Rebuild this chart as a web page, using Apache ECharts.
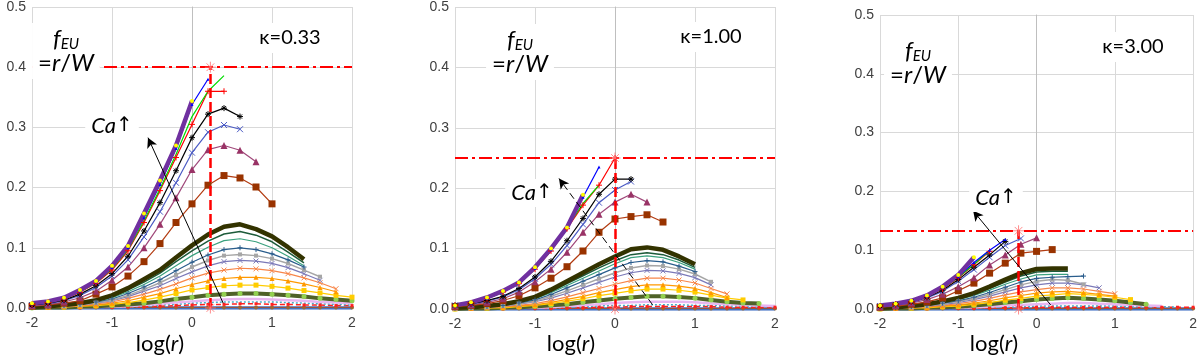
<!DOCTYPE html>
<html>
<head>
<meta charset="utf-8">
<script src="https://cdn.jsdelivr.net/npm/echarts@6/dist/echarts.min.js"></script>
<style>html,body{margin:0;padding:0;background:#fff}#c{width:1200px;height:356px}</style>
</head>
<body>
<div id="c"></div>
<script>
// ---------- DATA ----------
const XS = [-2,-1.8,-1.6,-1.4,-1.2,-1,-0.8,-0.6,-0.4,-0.2,0,0.2,0.4,0.6,0.8,1,1.2,1.4,1.6,1.8,2];
const X_TICKS = [-2,-1,0,1,2];
const Y_TICKS = [0,0.1,0.2,0.3,0.4,0.5];
const KAPPA = ['κ=0.33','κ=1.00','κ=3.00'];
const F_EU = [0.40, 0.25, 0.133];
const R_W = [0.23, 0.0, -0.23];
const ARROW1 = [[0.39,0.008],[-0.55,0.283]];
const ARROW2 = [[0.47,0.007],[-0.70,0.216]];
const ARROW3 = [[0.18,0.007],[-0.81,0.167]];

// panel 1 (kappa 0.33)
const p1Purple=[0.008,0.011,0.017,0.030,0.045,0.070,0.103,0.157,0.212,0.270,0.344];
const p1Blue=[0.007,0.010,0.016,0.028,0.043,0.067,0.100,0.150,0.205,0.265,0.338,0.380];
const p1Green=[0.006,0.010,0.015,0.027,0.042,0.065,0.097,0.145,0.198,0.255,0.318,0.360,0.386];
const p1Red=[0.006,0.009,0.015,0.026,0.041,0.063,0.095,0.142,0.195,0.250,0.305,0.360,0.360];
const p1Black=[0.005,0.008,0.013,0.023,0.037,0.057,0.086,0.128,0.175,0.228,0.283,0.322,0.332,0.318];
const p1Slate=[0.005,0.007,0.012,0.021,0.034,0.053,0.080,0.118,0.160,0.208,0.258,0.292,0.304,0.297];
const p1Maroon=[0.004,0.006,0.010,0.017,0.028,0.046,0.068,0.100,0.139,0.183,0.230,0.263,0.270,0.262,0.243];
const p1Brown=[0.003,0.005,0.008,0.012,0.023,0.035,0.053,0.077,0.107,0.142,0.173,0.204,0.220,0.216,0.201,0.173];
const p1Thick=[0.002,0.003,0.005,0.008,0.013,0.021,0.033,0.048,0.063,0.084,0.104,0.122,0.135,0.139,0.131,0.119,0.101,0.081];
const p1DkGreen=[0.002,0.003,0.004,0.007,0.012,0.019,0.030,0.043,0.058,0.077,0.095,0.111,0.123,0.127,0.121,0.110,0.093,0.075];
const p1Teal=[0.002,0.003,0.004,0.007,0.011,0.017,0.027,0.039,0.053,0.070,0.087,0.101,0.112,0.115,0.110,0.100,0.086,0.070];
const p1DkBlue=[0.001,0.002,0.004,0.006,0.010,0.015,0.024,0.035,0.047,0.062,0.076,0.088,0.097,0.100,0.097,0.090,0.080,0.068];
const p1Gray=[0.001,0.002,0.003,0.005,0.009,0.013,0.021,0.031,0.042,0.055,0.068,0.079,0.087,0.089,0.087,0.082,0.074,0.063,0.052];
const p1SlateBlue=[0.001,0.002,0.003,0.005,0.008,0.012,0.019,0.028,0.037,0.049,0.060,0.070,0.077,0.079,0.078,0.074,0.067,0.057,0.046];
const p1Orange=[0.001,0.002,0.003,0.004,0.007,0.010,0.016,0.023,0.031,0.040,0.050,0.058,0.063,0.066,0.065,0.062,0.057,0.050,0.042,0.032];
const p1OrangeTri=[0.001,0.001,0.002,0.003,0.005,0.008,0.012,0.018,0.024,0.032,0.039,0.045,0.049,0.051,0.051,0.049,0.045,0.040,0.034,0.027];
const p1Yellow=[0.001,0.001,0.002,0.003,0.004,0.006,0.009,0.013,0.018,0.024,0.030,0.034,0.037,0.038,0.038,0.036,0.033,0.029,0.025,0.021,0.018];
const p1Olive=[0.000,0.001,0.001,0.002,0.003,0.004,0.006,0.008,0.011,0.015,0.018,0.021,0.023,0.024,0.024,0.023,0.021,0.019,0.016,0.014,0.012];
const p1Pink=[0.000,0.000,0.001,0.001,0.002,0.002,0.003,0.005,0.007,0.009,0.011,0.013,0.014,0.015,0.015,0.014,0.013,0.012,0.010,0.009,0.008];
const p1LtBlue=[0.000,0.000,0.000,0.001,0.001,0.002,0.002,0.003,0.005,0.006,0.008,0.009,0.010,0.010,0.010,0.010,0.009,0.008,0.007,0.006,0.005];
const p1RedDash=[0.000,0.000,0.000,0.000,0.001,0.001,0.002,0.002,0.003,0.004,0.005,0.006,0.006,0.007,0.007,0.006,0.006,0.005,0.005,0.004,0.004];
const p1BrownZero=[0.001,0.001,0.001,0.001,0.001,0.001,0.001,0.001,0.001,0.001,0.001,0.001,0.001,0.001,0.001,0.001,0.001,0.001,0.001,0.001,0.001];
const p1BlueZero=[0,0,0,0,0,0,0,0,0,0,0,0,0,0,0,0,0,0,0,0,0];

// panel 2 (kappa 1.00)
const p2Purple=[0.006,0.011,0.019,0.030,0.044,0.069,0.100,0.135,0.189];
const p2Blue=[0.006,0.010,0.018,0.029,0.043,0.067,0.098,0.137,0.185,0.235];
const p2Green=[0.006,0.010,0.017,0.028,0.042,0.066,0.097,0.135,0.175,0.205];
const p2Red=[0.006,0.010,0.017,0.028,0.042,0.066,0.096,0.133,0.172,0.205,0.250];
const p2Black=[0.006,0.009,0.014,0.021,0.034,0.053,0.079,0.113,0.150,0.190,0.215,0.215];
const p2Slate=[0.006,0.008,0.013,0.020,0.032,0.050,0.074,0.105,0.140,0.176,0.197,0.211];
const p2Maroon=[0.005,0.007,0.011,0.017,0.028,0.045,0.066,0.094,0.127,0.157,0.177,0.190,0.177];
const p2Brown=[0.004,0.006,0.009,0.014,0.022,0.035,0.051,0.070,0.096,0.127,0.149,0.153,0.156,0.144];
const p2Thick=[0.002,0.003,0.005,0.008,0.013,0.020,0.032,0.046,0.060,0.074,0.087,0.099,0.102,0.098,0.087,0.074];
const p2DkGreen=[0.002,0.003,0.004,0.007,0.012,0.018,0.029,0.042,0.055,0.068,0.080,0.090,0.093,0.090,0.081,0.069];
const p2Teal=[0.002,0.003,0.004,0.007,0.011,0.017,0.027,0.039,0.051,0.063,0.075,0.085,0.088,0.085,0.077,0.066];
const p2DkBlue=[0.001,0.002,0.004,0.006,0.010,0.015,0.024,0.035,0.046,0.057,0.068,0.077,0.080,0.078,0.071,0.062];
const p2Gray=[0.001,0.002,0.003,0.005,0.009,0.013,0.021,0.030,0.040,0.050,0.060,0.068,0.072,0.071,0.066,0.058,0.045];
const p2SlateBlue=[0.001,0.002,0.003,0.005,0.008,0.012,0.018,0.026,0.035,0.044,0.053,0.060,0.064,0.063,0.059,0.052,0.040];
const p2Orange=[0.001,0.001,0.002,0.004,0.006,0.009,0.014,0.020,0.027,0.034,0.041,0.047,0.051,0.051,0.048,0.043,0.034,0.025];
const p2OrangeTri=[0.001,0.001,0.002,0.003,0.005,0.007,0.011,0.016,0.021,0.027,0.032,0.037,0.040,0.040,0.038,0.034,0.027,0.019];
const p2Yellow=[0.000,0.001,0.002,0.002,0.004,0.006,0.009,0.013,0.017,0.022,0.026,0.030,0.033,0.033,0.031,0.028,0.023,0.018,0.015];
const p2Olive=[0.000,0.001,0.001,0.002,0.003,0.004,0.006,0.008,0.011,0.014,0.017,0.019,0.021,0.021,0.020,0.018,0.015,0.012,0.010,0.009];
const p2Pink=[0.000,0.000,0.001,0.001,0.002,0.002,0.003,0.005,0.006,0.008,0.010,0.011,0.012,0.012,0.012,0.011,0.009,0.008,0.007,0.006,0.005];
const p2LtBlue=[0.000,0.000,0.000,0.001,0.001,0.002,0.002,0.003,0.004,0.005,0.006,0.006,0.007,0.007,0.007,0.006,0.006,0.005,0.005,0.004,0.004];
const p2RedDash=[0.000,0.000,0.000,0.000,0.001,0.001,0.001,0.002,0.002,0.003,0.003,0.004,0.004,0.004,0.004,0.004,0.004,0.003,0.003,0.003,0.003];
const p2BrownZero=[0.001,0.001,0.001,0.001,0.001,0.001,0.001,0.001,0.001,0.001,0.001,0.001,0.001,0.001,0.001,0.001,0.001,0.001,0.001,0.001,0.001];
const p2BlueZero=[0,0,0,0,0,0,0,0,0,0,0,0,0,0,0,0,0,0,0,0,0];

// panel 3 (kappa 3.00)
const p3Purple=[0.006,0.009,0.014,0.023,0.038,0.058,0.088];
const p3Blue=[0.006,0.009,0.013,0.022,0.036,0.055,0.079,0.100,0.118];
const p3Green=[0.005,0.008,0.013,0.021,0.035,0.054,0.076,0.100];
const p3Red=[0.005,0.008,0.012,0.021,0.034,0.053,0.075,0.098];
const p3Black=[0.005,0.008,0.012,0.020,0.032,0.050,0.071,0.092,0.115];
const p3Slate=[0.005,0.007,0.011,0.019,0.030,0.047,0.067,0.088,0.108,0.120];
const p3Maroon=[0.004,0.006,0.010,0.016,0.025,0.038,0.053,0.075,0.092,0.110,0.121];
const p3Brown=[0.003,0.005,0.008,0.012,0.019,0.031,0.044,0.061,0.078,0.095,0.098,0.101];
const p3Thick=[0.002,0.003,0.005,0.008,0.013,0.019,0.027,0.038,0.050,0.061,0.068,0.069,0.069];
const p3DkGreen=[0.002,0.003,0.004,0.007,0.012,0.017,0.025,0.035,0.046,0.056,0.063,0.064,0.064];
const p3Teal=[0.002,0.003,0.004,0.007,0.011,0.016,0.023,0.032,0.042,0.051,0.058,0.059,0.059];
const p3DkBlue=[0.001,0.002,0.004,0.006,0.010,0.014,0.020,0.028,0.037,0.046,0.052,0.054,0.055,0.056];
const p3Gray=[0.001,0.002,0.003,0.005,0.009,0.013,0.018,0.025,0.033,0.041,0.047,0.050,0.049,0.042];
const p3SlateBlue=[0.001,0.002,0.003,0.005,0.008,0.011,0.016,0.022,0.029,0.036,0.041,0.044,0.044,0.041,0.036];
const p3Orange=[0.001,0.001,0.002,0.004,0.006,0.009,0.013,0.018,0.024,0.029,0.033,0.036,0.036,0.034,0.030,0.026];
const p3OrangeTri=[0.001,0.001,0.002,0.003,0.005,0.007,0.010,0.014,0.019,0.023,0.027,0.029,0.030,0.028,0.025,0.022];
const p3Yellow=[0.000,0.001,0.002,0.002,0.004,0.005,0.008,0.011,0.015,0.018,0.022,0.024,0.026,0.025,0.023,0.020,0.016];
const p3Olive=[0.000,0.001,0.001,0.002,0.003,0.004,0.006,0.008,0.011,0.013,0.016,0.018,0.019,0.018,0.016,0.014,0.011,0.008];
const p3Pink=[0.000,0.000,0.001,0.001,0.002,0.002,0.003,0.004,0.006,0.007,0.008,0.009,0.010,0.010,0.009,0.008,0.007,0.006,0.005];
const p3LtBlue=[0.000,0.000,0.000,0.001,0.001,0.001,0.002,0.003,0.003,0.004,0.005,0.005,0.005,0.005,0.005,0.005,0.004,0.004,0.004,0.003];
const p3RedDash=[0.000,0.000,0.000,0.000,0.001,0.001,0.001,0.002,0.002,0.002,0.003,0.003,0.003,0.003,0.003,0.003,0.003,0.003,0.003,0.003,0.003];
const p3BrownZero=[0.001,0.001,0.001,0.001,0.001,0.001,0.001,0.001,0.001,0.001,0.001,0.001,0.001,0.001,0.001,0.001,0.001,0.001,0.001,0.001,0.001];
const p3BlueZero=[0,0,0,0,0,0,0,0,0,0,0,0,0,0,0,0,0,0,0,0,0];

// ---------- STYLE ----------
const X_PATH='path://M0,0L10,10M10,0L0,10';
const PLUS_PATH='path://M5,0L5,10M0,5L10,5';
const STAR_PATH='path://M5,0L5,10M0,5L10,5M1.5,1.5L8.5,8.5M8.5,1.5L1.5,8.5';
const DASH_PATH='path://M0,5L10,5';
const STY = {
  blueZero:{c:'#4472C4',w:3.5,s:'none'},
  brownZero:{c:'#A0522D',w:1,s:'circle',sz:4,mc:'#996633'},
  redDash:{c:'#FF2020',w:1.5,s:'rect',sz:3,t:[5,3]},
  ltBlue:{c:'#4BACC6',w:1.5,s:'none',t:[2,2]},
  pink:{c:'#E7B6F0',w:2.5,s:'none'},
  olive:{c:'#4F6228',w:4,s:'circle',sz:5,mc:'#92D050'},
  yellow:{c:'#FFCC00',w:1.2,s:'rect',sz:5},
  orangeTri:{c:'#FF9900',w:1.2,s:'triangle',sz:5},
  orange:{c:'#F7864A',w:1.2,s:X_PATH,sz:5,stroke:true},
  slateBlue:{c:'#7B79B8',w:1.2,s:X_PATH,sz:5,stroke:true},
  gray:{c:'#A6A6A6',w:1.5,s:'rect',sz:4},
  dkBlue:{c:'#2A5D8C',w:1.2,s:PLUS_PATH,sz:5,stroke:true},
  teal:{c:'#3AA17E',w:1.2,s:DASH_PATH,sz:5,stroke:true},
  dkGreen:{c:'#1D5B3A',w:1.5,s:DASH_PATH,sz:5,stroke:true},
  thick:{c:'#333300',w:4.5,s:DASH_PATH,sz:5,stroke:true},
  brown:{c:'#B33C12',w:1.2,s:'rect',sz:7,mc:'#993300'},
  maroon:{c:'#A0487A',w:1.2,s:'triangle',sz:7,mc:'#993366'},
  slate:{c:'#4B5BC4',w:1.2,s:X_PATH,sz:6,stroke:true},
  black:{c:'#000000',w:1.2,s:STAR_PATH,sz:6,stroke:true},
  red:{c:'#FF0000',w:1.2,s:PLUS_PATH,sz:6,stroke:true},
  green:{c:'#00DD00',w:1.2,s:'none'},
  blue:{c:'#0000FF',w:1.2,s:'triangle',sz:3},
  purple:{c:'#7030A0',w:4.5,s:'circle',sz:4,mc:'#FFFF00'}
};
const ORDER = ['blueZero','brownZero','redDash','ltBlue','pink','olive','yellow','orangeTri','orange','slateBlue','gray','dkBlue','teal','dkGreen','thick','brown','maroon','slate','black','red','green','blue','purple'];

const PANELS = [
  {grid:{left:32,top:6,width:320,height:302}, d:{blueZero:p1BlueZero,brownZero:p1BrownZero,redDash:p1RedDash,ltBlue:p1LtBlue,pink:p1Pink,olive:p1Olive,yellow:p1Yellow,orangeTri:p1OrangeTri,orange:p1Orange,slateBlue:p1SlateBlue,gray:p1Gray,dkBlue:p1DkBlue,teal:p1Teal,dkGreen:p1DkGreen,thick:p1Thick,brown:p1Brown,maroon:p1Maroon,slate:p1Slate,black:p1Black,red:p1Red,green:p1Green,blue:p1Blue,purple:p1Purple}, arrow:ARROW1, dashArrow:false},
  {grid:{left:455,top:7,width:320,height:302}, d:{blueZero:p2BlueZero,brownZero:p2BrownZero,redDash:p2RedDash,ltBlue:p2LtBlue,pink:p2Pink,olive:p2Olive,yellow:p2Yellow,orangeTri:p2OrangeTri,orange:p2Orange,slateBlue:p2SlateBlue,gray:p2Gray,dkBlue:p2DkBlue,teal:p2Teal,dkGreen:p2DkGreen,thick:p2Thick,brown:p2Brown,maroon:p2Maroon,slate:p2Slate,black:p2Black,red:p2Red,green:p2Green,blue:p2Blue,purple:p2Purple}, arrow:ARROW2, dashArrow:true},
  {grid:{left:880,top:15,width:315,height:294}, d:{blueZero:p3BlueZero,brownZero:p3BrownZero,redDash:p3RedDash,ltBlue:p3LtBlue,pink:p3Pink,olive:p3Olive,yellow:p3Yellow,orangeTri:p3OrangeTri,orange:p3Orange,slateBlue:p3SlateBlue,gray:p3Gray,dkBlue:p3DkBlue,teal:p3Teal,dkGreen:p3DkGreen,thick:p3Thick,brown:p3Brown,maroon:p3Maroon,slate:p3Slate,black:p3Black,red:p3Red,green:p3Green,blue:p3Blue,purple:p3Purple}, arrow:ARROW3, dashArrow:false}
];

// annotation text placement (pixels)
const TXT = [
  {feu:[66,51], kap:[290,38], ca:[112,126], log:[160,344]},
  {feu:[520,52], kap:[711,37], ca:[532,193], log:[571,344]},
  {feu:[918,63], kap:[1133,47], ca:[996,198], log:[994,344]}
];

const grids=[], xAxes=[], yAxes=[], series=[], graphic=[];
PANELS.forEach((p,pi)=>{
  grids.push(p.grid);
  xAxes.push({type:'value', gridIndex:pi, min:X_TICKS[0], max:X_TICKS[X_TICKS.length-1], interval:1,
    axisLine:{show:true,onZero:false,lineStyle:{color:'#BFBFBF'}}, axisTick:{show:false},
    splitLine:{show:true,lineStyle:{color:'#D9D9D9'}},
    axisLabel:{color:'#404040',fontFamily:'Liberation Sans',fontSize:14,margin:8,formatter:v=>String(v)}});
  yAxes.push({type:'value', gridIndex:pi, min:Y_TICKS[0], max:Y_TICKS[Y_TICKS.length-1], interval:0.1,
    axisLine:{show:true,lineStyle:{color:'#BFBFBF'}}, axisTick:{show:false},
    splitLine:{show:true,lineStyle:{color:'#D9D9D9'}},
    axisLabel:{color:'#404040',fontFamily:'Liberation Sans',fontSize:14,margin:6,formatter:v=>v.toFixed(1)}});
  ORDER.forEach(k=>{
    const st=STY[k], ys=p.d[k];
    series.push({type:'line', xAxisIndex:pi, yAxisIndex:pi, silent:true, animation:false,
      data:ys.map((y,i)=>[XS[i],y]),
      lineStyle:{color:st.c,width:st.w,type:st.t||'solid'},
      symbol:st.s, symbolSize:st.sz||4, showSymbol:st.s!=='none',
      itemStyle:st.stroke?{color:st.c,borderColor:st.c,borderWidth:1}:{color:st.mc||st.c,borderWidth:0}});
  });
  series.push({type:'line', xAxisIndex:pi, yAxisIndex:pi, data:[], silent:true, animation:false,
    markLine:{silent:true, symbol:['none','none'], label:{show:false}, animation:false,
      data:[
        [{coord:[X_TICKS[0],F_EU[pi]],lineStyle:{color:'#FF0000',width:2,type:[13,4,3,4]}},{coord:[X_TICKS[4],F_EU[pi]]}],
        [{coord:[R_W[pi],0],lineStyle:{color:'#FF0000',width:2.5,type:[10,4]}},{coord:[R_W[pi],F_EU[pi]]}]
      ]}});
  series.push({type:'line', xAxisIndex:pi, yAxisIndex:pi, data:[], silent:true, animation:false,
    markLine:{silent:true, symbol:['none','arrow'], symbolSize:[8,10], label:{show:false}, animation:false,
      lineStyle:{color:'#000',width:1,type:p.dashArrow?[7,4]:'solid'},
      data:[[{coord:p.arrow[0]},{coord:p.arrow[1]}]]}});
  series.push({type:'scatter', xAxisIndex:pi, yAxisIndex:pi, silent:true, animation:false,
    data:[[R_W[pi],0],[R_W[pi],F_EU[pi]]], symbol:STAR_PATH, symbolSize:11,
    itemStyle:{color:'#FF7070',borderColor:'#FF7070',borderWidth:1}, z:5});

  const t=TXT[pi];
  graphic.push({type:'text', x:t.feu[0], y:t.feu[1], z:100, style:{
    text:'{f|f}{s|EU}\n{n|=}{i|r}{n|/}{i|W}', align:'center', verticalAlign:'middle',
    backgroundColor:'#fff', padding:[4,6],
    rich:{
      f:{fontFamily:'Lato',fontStyle:'italic',fontSize:24,fill:'#000',lineHeight:24},
      s:{fontFamily:'Lato',fontStyle:'italic',fontSize:15,fill:'#000',padding:[10,0,0,0],lineHeight:24},
      n:{fontFamily:'Lato',fontSize:24,fill:'#000',lineHeight:24},
      i:{fontFamily:'Lato',fontStyle:'italic',fontSize:24,fill:'#000',lineHeight:24}
    }}});
  graphic.push({type:'text', x:t.kap[0], y:t.kap[1], z:100, style:{
    text:KAPPA[pi], align:'center', verticalAlign:'middle', backgroundColor:'#fff', padding:[5,6],
    font:'20px Lato', fill:'#000'}});
  graphic.push({type:'text', x:t.ca[0], y:t.ca[1], z:100, style:{
    text:'{i|Ca}{n|↑}', align:'center', verticalAlign:'middle', backgroundColor:'#fff', padding:[3,6],
    rich:{i:{fontFamily:'Lato',fontStyle:'italic',fontSize:22,fill:'#000'},n:{fontFamily:'DejaVu Sans',fontSize:20,fill:'#000'}}}});
  graphic.push({type:'text', x:t.log[0], y:t.log[1], z:100, style:{
    text:'{n|log(}{i|r}{n|)}', align:'center', verticalAlign:'middle',
    rich:{n:{fontFamily:'Lato',fontSize:22,fill:'#000'},i:{fontFamily:'Lato',fontStyle:'italic',fontSize:22,fill:'#000'}}}});
});

const chart = echarts.init(document.getElementById('c'), null, {renderer:'canvas'});
chart.setOption({animation:false, grid:grids, xAxis:xAxes, yAxis:yAxes, series:series, graphic:graphic});
</script>
</body>
</html>
